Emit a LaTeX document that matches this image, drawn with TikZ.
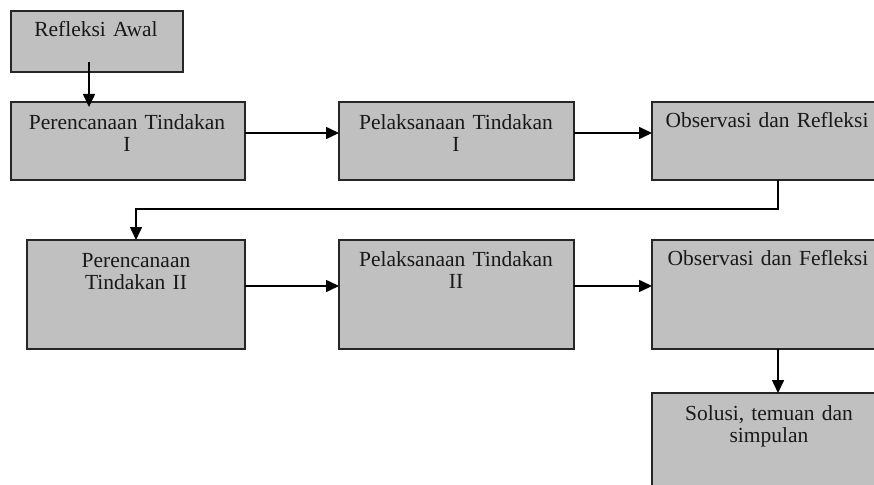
\documentclass[tikz,border=0pt]{standalone}
\usepackage{fontspec}
\setmainfont{Liberation Serif}
\usetikzlibrary{arrows.meta,calc}

\definecolor{boxgray}{HTML}{C0C0C0}
\tikzset{
  stagebox/.style={draw=black!85, line width=1.7pt, fill=boxgray, inner sep=0pt,
    outer sep=0pt, anchor=north west, minimum width=#1},
  boxlabel/.style={anchor=base, align=center, text width=250pt, inner sep=0pt,
    font=\fontsize{21.5pt}{22.5pt}\selectfont, text=black!90},
  arr/.style={draw=black, line width=1.6pt, -{Triangle[length=13pt,width=12pt]}},
}

\begin{document}
\begin{tikzpicture}[x=1pt, y=-1pt]
\useasboundingbox (0,0) rectangle (874,484);
\clip (0,0) rectangle (874,484);

% stage boxes
\node[stagebox=172pt, minimum height=61pt]  (awal) at (11,11)   {};
\node[stagebox=234pt, minimum height=78pt]  (renA) at (11,102)  {};
\node[stagebox=235pt, minimum height=78pt]  (lakA) at (339,102) {};
\node[stagebox=252pt, minimum height=78pt]  (obsA) at (652,102) {};
\node[stagebox=218pt, minimum height=109pt] (renB) at (27,240)  {};
\node[stagebox=235pt, minimum height=109pt] (lakB) at (339,240) {};
\node[stagebox=252pt, minimum height=109pt] (obsB) at (652,240) {};
\node[stagebox=252pt, minimum height=120pt] (solusi) at (652,393) {};

% box texts
\node[boxlabel] (tawal) at (96,37)    {Refleksi Awal};
\node[boxlabel] (trenA) at (127,129)  {Perencanaan Tindakan\\I};
\node[boxlabel] (tlakA) at (456,129)  {Pelaksanaan Tindakan\\I};
\node[boxlabel] (tobsA) at (767,127)  {Observasi dan Refleksi};
\node[boxlabel] (trenB) at (136,267)  {Perencanaan\\Tindakan II};
\node[boxlabel] (tlakB) at (456,266)  {Pelaksanaan Tindakan\\II};
\node[boxlabel] (tobsB) at (768,265)  {Observasi dan Fefleksi};
\node[boxlabel] (tsol)  at (769,420)  {Solusi, temuan dan\\simpulan};

% connectors
\draw[arr, shorten >=-5pt] ([xshift=-8pt,yshift=10pt]awal.south) -- ([xshift=-8pt]awal.south |- renA.north);
\draw[arr] ([yshift=8pt]renA.east) -- ([yshift=8pt]renA.east -| lakA.west);
\draw[arr] ([yshift=8pt]lakA.east) -- ([yshift=8pt]lakA.east -| obsA.west);
\draw[arr] (obsA.south) -- ++(0,29) -| (renB.north);
\draw[arr] ([yshift=8.5pt]renB.east) -- ([yshift=8.5pt]renB.east -| lakB.west);
\draw[arr] ([yshift=8.5pt]lakB.east) -- ([yshift=8.5pt]lakB.east -| obsB.west);
\draw[arr] (obsB.south) -- (solusi.north);
\end{tikzpicture}
\end{document}
